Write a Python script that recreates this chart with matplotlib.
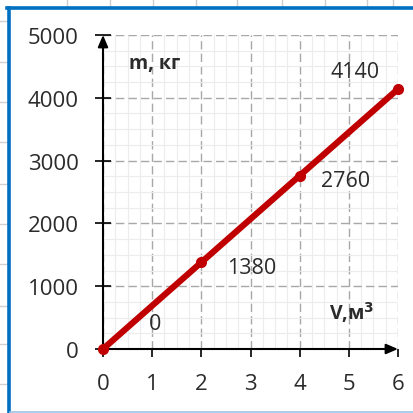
import matplotlib
matplotlib.use('Agg')

import matplotlib.pyplot as plt
from matplotlib.patches import Rectangle
from matplotlib.lines import Line2D
from matplotlib.ticker import MultipleLocator


volume = [0, 2, 4, 6]
mass = [0, 1380, 2760, 4140]

# label offsets in pixels from each point
label_offsets = [(52, 25), (50, -5), (46, -5), (-43, 18)]

x_ticks = [0, 1, 2, 3, 4, 5, 6]
y_ticks = [0, 1000, 2000, 3000, 4000, 5000]

RED = '#c00000'
TEXT = '#2b2b2b'
BLUE = '#0070c0'

plt.rcParams['font.family'] = ['Open Sans', 'DejaVu Sans']

figure = plt.figure(figsize=(4.13, 4.14), dpi=100, facecolor='white')

# spreadsheet cells behind the frame
for y in [22, 63, 103, 143, 185, 225, 265, 307, 345, 385]:
    figure.add_artist(Line2D([0, 7 / 413], [1 - y / 414] * 2, color='#d0d0d0', lw=1))
for x in [67, 110, 153, 196, 237, 282, 325, 367, 393]:
    figure.add_artist(Line2D([x / 413] * 2, [1 - 7 / 414, 1], color='#d0d0d0', lw=1))

# blue frame
figure.add_artist(Rectangle(
    (8.5 / 413, 1.5 / 414), 1.2, (414 - 10) / 414,
    transform=figure.transFigure, facecolor='white', edgecolor='none', zorder=0,
))
figure.add_artist(Line2D([8.5 / 413] * 2, [0, 1 - 8.5 / 414], color=BLUE, lw=2.6))
figure.add_artist(Line2D([7.2 / 413, 1], [1 - 8.5 / 414] * 2, color=BLUE, lw=2.6))
figure.add_artist(Line2D([10 / 413, 1], [1.5 / 414] * 2, color='#9dc3e6', lw=1.2))

axes = figure.add_axes([103 / 413, 1 - 350 / 414, 295 / 413, 314 / 414])
axes.set_facecolor('none')
axes.set_xlim(0, 6)
axes.set_ylim(0, 5000)

axes.xaxis.set_minor_locator(MultipleLocator(0.25))
axes.yaxis.set_minor_locator(MultipleLocator(250))
axes.grid(which='minor', color='#ececec', lw=0.8, ls='-')
axes.grid(which='major', color='#a8a8a8', lw=1, ls=(0, (6, 3)))
axes.set_axisbelow(True)

axes.set_xticks(x_ticks)
axes.set_yticks(y_ticks)
axes.tick_params(which='minor', length=0)
axes.tick_params(axis='y', direction='inout', length=11, width=1.2, pad=12,
                 labelsize=16, labelcolor=TEXT)
axes.tick_params(axis='x', direction='out', length=6, width=1.2, pad=11,
                 labelsize=16, labelcolor=TEXT)

for side in ('top', 'right', 'bottom', 'left'):
    axes.spines[side].set_visible(False)

arrow = dict(arrowstyle='-|>,head_length=0.7,head_width=0.3', color='black', lw=1.5,
             shrinkA=0, shrinkB=0)
axes.annotate('', xy=(6, 0), xytext=(0, 0), arrowprops=arrow, annotation_clip=False)
axes.annotate('', xy=(0, 5000), xytext=(0, 0), arrowprops=arrow, annotation_clip=False)

axes.plot(volume, mass, color=RED, lw=4.5, marker='o', markersize=7,
          solid_capstyle='round', clip_on=False, zorder=5)

for v, m, offset in zip(volume, mass, label_offsets):
    axes.annotate(str(m), (v, m), xytext=offset, textcoords='offset pixels',
                  ha='center', va='center', fontsize=15.5, color=TEXT)

axes.text(1.06, 4560, 'm, кг', ha='center', va='center', fontsize=14,
          fontweight='bold', color=TEXT)
axes.text(5.05, 590, 'V,м$^\\mathbf{3}$', ha='center', va='center', fontsize=14,
          fontweight='bold', color=TEXT)

figure.savefig('out.png', dpi=100, facecolor='white')
